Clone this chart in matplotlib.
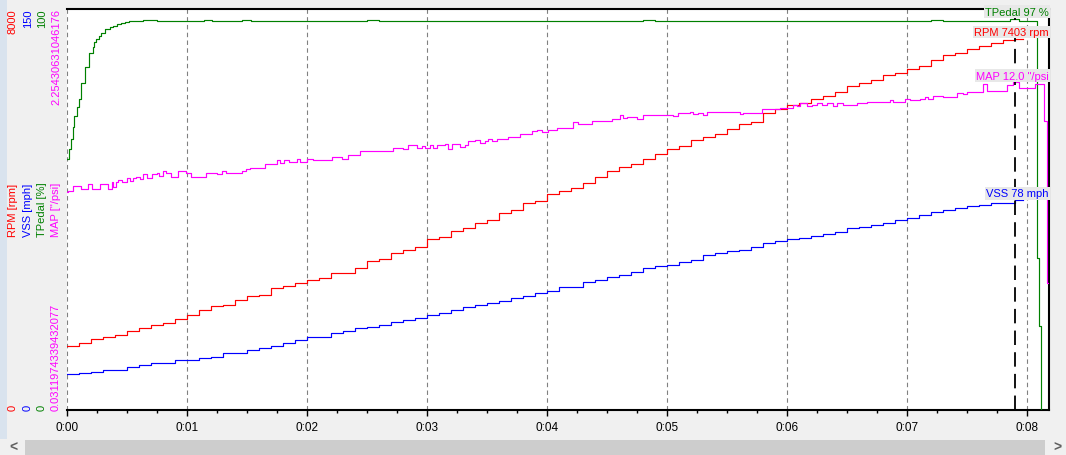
import numpy as np
import matplotlib
matplotlib.use('Agg')
import matplotlib.pyplot as plt
from matplotlib.patches import Rectangle
from matplotlib.ticker import MultipleLocator, FuncFormatter
import matplotlib.transforms as mtransforms

plt.rcParams['font.family'] = ['Liberation Sans', 'DejaVu Sans']

# RPM and VSS logged every 0.1 s from 0:00
sample_dt = 0.1
rpm = [1270, 1330, 1410, 1450, 1500, 1580, 1630, 1700, 1730, 1810,
       1900, 1990, 2070, 2090, 2190, 2270, 2300, 2430, 2480, 2530,
       2600, 2630, 2730, 2730, 2830, 2970, 3010, 3130, 3200, 3250,
       3410, 3450, 3570, 3630, 3730, 3800, 3930, 4000, 4120, 4170,
       4300, 4370, 4430, 4530, 4650, 4770, 4850, 4900, 5010, 5100,
       5200, 5270, 5390, 5450, 5500, 5600, 5700, 5750, 5930, 6000,
       6080, 6120, 6210, 6270, 6350, 6470, 6520, 6590, 6680, 6730,
       6810, 6870, 6990, 7080, 7130, 7210, 7270, 7330, 7380, 7403]
vss = [13.5, 14.0, 14.4, 15.0, 15.0, 16.0, 16.9, 17.7, 17.7, 18.8,
       18.8, 19.4, 20.0, 21.3, 21.3, 22.5, 23.1, 24.0, 25.0, 26.0,
       27.3, 27.3, 28.8, 29.4, 30.6, 31.0, 31.9, 32.8, 33.8, 34.6,
       35.6, 36.3, 37.5, 38.4, 39.3, 40.0, 40.9, 41.9, 42.5, 43.8,
       44.6, 46.0, 46.0, 47.8, 48.8, 49.8, 50.6, 51.5, 53.1, 53.8,
       54.4, 55.3, 56.0, 57.9, 58.8, 59.4, 60.0, 60.9, 62.3, 63.1,
       63.8, 64.4, 65.0, 66.0, 66.6, 67.9, 68.5, 69.1, 70.0, 70.9,
       71.9, 73.1, 74.0, 74.8, 75.6, 76.3, 76.6, 77.5, 77.5, 78.4]
log_end = 7.97

# throttle pedal, change points
pedal_t = [0.0, 0.019, 0.03, 0.053, 0.061, 0.086, 0.097, 0.12, 0.153, 0.186,
           0.22, 0.228, 0.242, 0.264, 0.286, 0.319, 0.358, 0.386, 0.42, 0.453,
           0.48, 0.52, 0.63, 0.75, 1.14, 1.21, 1.46, 1.53, 2.5, 2.6,
           4.8, 4.9, 7.2, 7.3, 7.86, 7.93, 8.08, 8.10, 8.12, 8.18]
pedal = [62.5, 65.0, 67.5, 70.5, 73.3, 75.5, 77.5, 81.5, 85.5, 89.0,
         90.5, 91.7, 92.5, 93.3, 94.0, 95.0, 95.5, 95.8, 96.2, 96.5,
         96.7, 96.9, 97.2, 96.9, 97.3, 96.9, 97.3, 96.9, 97.2, 96.9,
         97.2, 96.9, 97.2, 96.9, 97.6, 96.9, 38.0, 21.0, 0.0, 0.0]

# manifold pressure, change points
map_t = [0.0, 0.011, 0.053, 0.114, 0.178, 0.211, 0.275, 0.344, 0.372, 0.386,
         0.408, 0.428, 0.456, 0.497, 0.525, 0.553, 0.575, 0.608, 0.636, 0.669,
         0.706, 0.747, 0.769, 0.797, 0.825, 0.867, 0.928, 0.992, 1.031, 1.156,
         1.253, 1.289, 1.322, 1.461, 1.489, 1.525, 1.65, 1.747, 1.775, 1.808,
         1.853, 1.914, 1.942, 2.003, 2.053, 2.206, 2.289, 2.344, 2.442, 2.719,
         2.803, 2.844, 2.914, 2.956, 2.983, 3.025, 3.053, 3.081, 3.15, 3.178,
         3.206, 3.219, 3.275, 3.317, 3.344, 3.4, 3.442, 3.483, 3.511, 3.539,
         3.581, 3.678, 3.775, 3.872, 3.914, 3.956, 4.011, 4.081, 4.219, 4.261,
         4.372, 4.414, 4.539, 4.608, 4.636, 4.664, 4.747, 4.803, 5.053, 5.094,
         5.192, 5.219, 5.261, 5.303, 5.331, 5.608, 5.636, 5.789, 5.942, 6.053,
         6.081, 6.108, 6.164, 6.206, 6.247, 6.289, 6.331, 6.386, 6.414, 6.469,
         6.581, 6.664, 6.858, 6.886, 6.983, 7.025, 7.108, 7.15, 7.178, 7.219,
         7.303, 7.414, 7.469, 7.497, 7.636, 7.664, 7.83, 7.886, 7.93, 7.98,
         8.067, 8.14, 8.165, 8.18]
map_v = [1.239, 1.248, 1.272, 1.258, 1.286, 1.258, 1.286, 1.258, 1.295, 1.267,
         1.295, 1.306, 1.295, 1.319, 1.300, 1.319, 1.325, 1.313, 1.337, 1.319,
         1.337, 1.347, 1.328, 1.356, 1.343, 1.325, 1.356, 1.347, 1.325, 1.347,
         1.337, 1.356, 1.347, 1.356, 1.369, 1.375, 1.393, 1.417, 1.398, 1.417,
         1.408, 1.421, 1.408, 1.425, 1.417, 1.436, 1.421, 1.445, 1.467, 1.486,
         1.476, 1.499, 1.486, 1.495, 1.486, 1.499, 1.486, 1.499, 1.508, 1.476,
         1.505, 1.508, 1.490, 1.499, 1.522, 1.528, 1.510, 1.522, 1.532, 1.521,
         1.532, 1.547, 1.560, 1.578, 1.584, 1.573, 1.582, 1.597, 1.628, 1.619,
         1.632, 1.636, 1.647, 1.669, 1.651, 1.658, 1.647, 1.669, 1.661, 1.675,
         1.684, 1.672, 1.680, 1.667, 1.684, 1.671, 1.680, 1.699, 1.708, 1.721,
         1.717, 1.732, 1.714, 1.721, 1.731, 1.721, 1.731, 1.717, 1.731, 1.721,
         1.732, 1.736, 1.749, 1.739, 1.754, 1.749, 1.754, 1.769, 1.754, 1.773,
         1.767, 1.788, 1.782, 1.795, 1.841, 1.800, 1.832, 1.847, 1.819, 1.814,
         1.838, 1.632, 0.737, 0.737]

# channel setup: name, unit, limits, colour, readout text at cursor
names = ['RPM', 'VSS', 'TPedal', 'MAP']
units = ['rpm', 'mph', '%', '"/psi']
limits = [(0, 8000), (0, 150), (0, 100), (0.0311974339432077, 2.25430631046176)]
colors = ['#FF0000', '#0000FF', '#008000', '#FF00FF']
readouts = ['RPM 7403 rpm', 'VSS 78 mph', 'TPedal 97 %', 'MAP 12.0 "/psi']

cursor_t = 7.9
t_max = 8.183

W, H = 1066, 456
fig = plt.figure(figsize=(W / 100, H / 100), dpi=100, facecolor='#F0F0F0')
ax = fig.add_axes([67 / W, 45 / H, 982 / W, 401 / H])
ax.set_facecolor('white')

axes = [ax, ax.twinx(), ax.twinx(), ax.twinx()]
for a, lim in zip(axes, limits):
    a.set_ylim(*lim)
    a.set_xlim(0, t_max)
for a in axes[1:]:
    a.axis('off')

# traces
samp_t = np.arange(len(rpm)) * sample_dt
series = [
    (np.append(samp_t, log_end), np.append(rpm, rpm[-1])),
    (np.append(samp_t, log_end), np.append(vss, vss[-1])),
    (pedal_t, pedal),
    (map_t, map_v),
]
for a, (t, v), c in zip(axes, series, colors):
    a.step(t, v, where='post', color=c, lw=0.85, zorder=3)

# frame and grid
ax.spines['left'].set_visible(False)
for s in ['top', 'right', 'bottom']:
    ax.spines[s].set_linewidth(1.5)
    ax.spines[s].set_color('black')
ax.set_yticks([])
ax.xaxis.set_major_locator(MultipleLocator(1))
ax.xaxis.set_minor_locator(MultipleLocator(0.25))
ax.xaxis.set_major_formatter(FuncFormatter(lambda x, p: '0:%02d' % int(round(x))))
ax.tick_params(axis='x', which='major', length=4, width=1, labelsize=8.5, pad=4)
ax.tick_params(axis='x', which='minor', length=2.5, width=1)
ax.grid(axis='x', which='major', color='#808080', linestyle=(0, (4, 3)), linewidth=0.8)
ax.set_axisbelow(True)

# cursor and readouts
top = axes[-1]
top.axvline(cursor_t, color='black', lw=1.3, linestyle=(0, (8, 4)), zorder=5)
for a, (t, v), c, txt in zip(axes, series, colors, readouts):
    i = np.searchsorted(t, cursor_t, side='right') - 1
    tr = mtransforms.blended_transform_factory(ax.transAxes, a.transData)
    top.annotate(txt, xy=(1.0, v[i]), xycoords=tr, xytext=(0, 5),
                 textcoords='offset points', ha='right', va='center',
                 color=c, fontsize=8, zorder=6,
                 bbox=dict(boxstyle='square,pad=0.12', fc='#E8E8E8', ec='none'))

# left scale labels, one column per channel
col_x = [13, 28, 42, 56]
for x, name, unit, lim, c in zip(col_x, names, units, limits, colors):
    fig.text(x / W, 1 - 9 / H, str(lim[1]), rotation=90, ha='center', va='top',
             color=c, fontsize=8)
    fig.text(x / W, 1 - 411 / H, str(lim[0]), rotation=90, ha='center', va='bottom',
             color=c, fontsize=8)
    fig.text(x / W, 1 - 210 / H, '%s [%s]' % (name, unit), rotation=90,
             ha='center', va='center', color=c, fontsize=8)

# window chrome: side strip and scroll bar
fig.patches.append(Rectangle((0, 16 / H), 7 / W, 440 / H, transform=fig.transFigure,
                             facecolor='#D9E3EE', edgecolor='none', zorder=0))
fig.patches.append(Rectangle((25 / W, 0), 1020 / W, 15 / H, transform=fig.transFigure,
                             facecolor='#CDCDCD', edgecolor='none', zorder=0))
fig.text(13 / W, 1 - 448 / H, '<', ha='center', va='center', color='#606060',
         fontsize=10, fontweight='bold')
fig.text(1057 / W, 1 - 448 / H, '>', ha='center', va='center', color='#606060',
         fontsize=10, fontweight='bold')

fig.savefig('out.png', dpi=100, facecolor=fig.get_facecolor())
